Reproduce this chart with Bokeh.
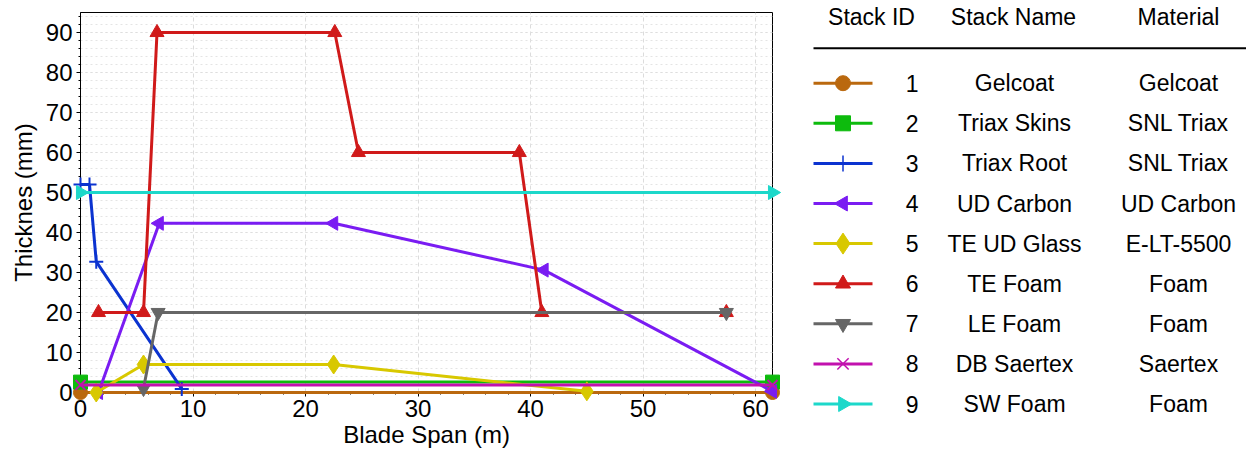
import numpy as np
from bokeh.plotting import figure
from bokeh.models import Range1d, FixedTicker, ColumnDataSource
from bokeh.embed import file_html
from bokeh.resources import INLINE
from bokeh.core.properties import value

# ---------------- data ----------------
stack_ids = ["1", "2", "3", "4", "5", "6", "7", "8", "9"]
stack_names = ["Gelcoat", "Triax Skins", "Triax Root", "UD Carbon", "TE UD Glass",
               "TE Foam", "LE Foam", "DB Saertex", "SW Foam"]
materials = ["Gelcoat", "SNL Triax", "SNL Triax", "UD Carbon", "E-LT-5500",
             "Foam", "Foam", "Saertex", "Foam"]
headers = ["Stack ID", "Stack Name", "Material"]
colors = ["#BA680E", "#0DBB0D", "#0B33D0", "#7A1CF2", "#D8C800",
          "#D01A1A", "#666666", "#C211AE", "#1CD8CA"]
markers = ["circle", "square", "cross", "triangle", "diamond",
           "triangle", "inverted_triangle", "x", "triangle"]
angles = [0, 0, 0, np.pi / 2, 0, 0, 0, 0, -np.pi / 2]

gelcoat_x = [0.0, 61.5]
gelcoat_y = [0.0, 0.0]
triax_skins_x = [0.0, 61.5]
triax_skins_y = [2.6, 2.6]
triax_root_x = [0.0, 0.8, 1.4, 9.0]
triax_root_y = [52.0, 52.0, 32.7, 0.9]
ud_carbon_x = [1.6, 7.0, 22.5, 41.2, 61.5]
ud_carbon_y = [0.0, 42.3, 42.3, 30.6, 0.3]
te_ud_glass_x = [1.4, 5.6, 22.5, 45.0]
te_ud_glass_y = [0.0, 7.0, 7.0, 0.3]
te_foam_x = [1.6, 5.6, 6.8, 22.6, 24.7, 39.0, 41.0, 57.4]
te_foam_y = [20.0, 20.0, 90.0, 90.0, 60.0, 60.0, 20.0, 20.0]
le_foam_x = [5.6, 6.9, 57.4]
le_foam_y = [1.0, 20.0, 20.0]
db_saertex_x = [0.0, 61.5]
db_saertex_y = [1.9, 1.9]
sw_foam_x = [0.0, 61.5]
sw_foam_y = [50.0, 50.0]

series_x = [gelcoat_x, triax_skins_x, triax_root_x, ud_carbon_x, te_ud_glass_x,
            te_foam_x, le_foam_x, db_saertex_x, sw_foam_x]
series_y = [gelcoat_y, triax_skins_y, triax_root_y, ud_carbon_y, te_ud_glass_y,
            te_foam_y, le_foam_y, db_saertex_y, sw_foam_y]

x_ticks = [0, 10, 20, 30, 40, 50, 60]
y_ticks = [0, 10, 20, 30, 40, 50, 60, 70, 80, 90]

FONT = value("Liberation Sans")

# ---------------- layout (pixels) ----------------
FL, FT, FW, FH = 80, 12, 692, 380

p = figure(frame_width=FW, frame_height=FH, output_backend="svg", toolbar_location=None,
           x_range=Range1d(0, 61.5), y_range=Range1d(0, 95),
           min_border_left=FL, min_border_right=474, min_border_top=FT, min_border_bottom=57)
# pixel-space ranges for the table at the right (extrapolated beyond the frame)
p.extra_x_ranges = {"px": Range1d(FL, FL + FW)}
p.extra_y_ranges = {"py": Range1d(FT + FH, FT)}

p.outline_line_color = "black"
p.outline_line_width = 1
p.background_fill_color = "white"
p.border_fill_color = "white"

for ax in (p.xaxis[0], p.yaxis[0]):
    ax.axis_line_color = "black"
    ax.major_tick_line_color = "black"
    ax.minor_tick_line_color = "black"
    ax.major_tick_out = 4
    ax.major_tick_in = 0
    ax.minor_tick_out = 2
    ax.minor_tick_in = 0
    ax.major_label_text_font = "Liberation Sans"
    ax.major_label_text_font_size = "24px"
    ax.major_label_text_color = "black"
    ax.axis_label_text_font = "Liberation Sans"
    ax.axis_label_text_font_size = "24px"
    ax.axis_label_text_font_style = "normal"
    ax.axis_label_text_color = "black"

p.xaxis.ticker = FixedTicker(ticks=x_ticks, minor_ticks=list(np.arange(0, 62, 2)))
p.yaxis.ticker = FixedTicker(ticks=y_ticks, minor_ticks=list(np.arange(0, 96, 2)))
p.xaxis.axis_label = "Blade Span (m)"
p.yaxis.axis_label = "Thicknes (mm)"
p.xaxis.major_label_standoff = 3
p.xaxis.axis_label_standoff = 1
p.yaxis.major_label_standoff = 4
p.yaxis.axis_label_standoff = 6

p.xgrid.grid_line_color = "#dcdcdc"
p.xgrid.grid_line_dash = "4 3"
p.xgrid.grid_line_width = 1
p.ygrid.grid_line_color = "#dedede"
p.ygrid.grid_line_dash = "2 3"
p.ygrid.minor_grid_line_color = "#e4e4e4"
p.ygrid.minor_grid_line_dash = "2 3"

for i in range(9):
    c = colors[i]
    p.line(series_x[i], series_y[i], line_color=c, line_width=3, level="overlay")
    m = markers[i]
    size = 14
    lw = 1
    if m == "diamond":
        size = 19
    if m in ("cross", "x"):
        lw = 2
    p.scatter(series_x[i], series_y[i], marker=m, size=size, angle=angles[i],
              fill_color=c, line_color=c, line_width=lw, level="overlay")

# ---------------- legend table (pixel coordinates) ----------------
hdr_x = [871.0, 1013.0, 1178.0]
col_id, col_name, col_mat = 911.7, 1014.0, 1178.0
seg_x0, seg_x1, mark_x = 813.0, 872.0, 842.5
header_y = 16.0
rule_y = 47.7
row0, dy = 82.7, 40.1
kw = dict(x_range_name="px", y_range_name="py", level="overlay")

p.text(x=hdr_x, y=[header_y] * 3, text=headers,
       text_font=FONT, text_font_size="23px", text_color="black",
       text_align="center", text_baseline="middle", **kw)
p.segment(x0=[seg_x0], y0=[rule_y], x1=[1254.0], y1=[rule_y], line_color="black",
          line_width=2, **kw)

ys = [row0 + dy * i for i in range(9)]
src = ColumnDataSource(dict(y=ys, ids=stack_ids, names=stack_names, mats=materials,
                            colors=colors))
for xc, col in ((col_id, "ids"), (col_name, "names"), (col_mat, "mats")):
    p.text(x=xc, y="y", text=col, source=src, text_font=FONT, text_font_size="23px",
           text_color="black", text_align="center", text_baseline="middle", **kw)
p.segment(x0=seg_x0, y0="y", x1=seg_x1, y1="y", line_color="colors", line_width=3,
          source=src, **kw)

# legend sample markers; the last, fully transparent entry only widens the
# marker culling window so that the samples outside the frame are drawn
leg_sizes = [16 if m in ("cross", "x") else (21 if m == "diamond" else 15) for m in markers]
leg_lw = [1.5 if m in ("cross", "x") else 1 for m in markers]
msrc = ColumnDataSource(dict(
    x=[mark_x] * 9 + [mark_x], y=ys + [ys[0]],
    marker=markers + ["circle"], size=leg_sizes + [600], angle=angles + [0],
    color=colors + ["#ffffff"], lw=leg_lw + [0], alpha=[1.0] * 9 + [0.0]))
p.scatter(x="x", y="y", marker="marker", size="size", angle="angle", source=msrc,
          fill_color="color", line_color="color", line_width="lw",
          fill_alpha="alpha", line_alpha="alpha", **kw)

open("out.html", "w").write(file_html(p, INLINE))
